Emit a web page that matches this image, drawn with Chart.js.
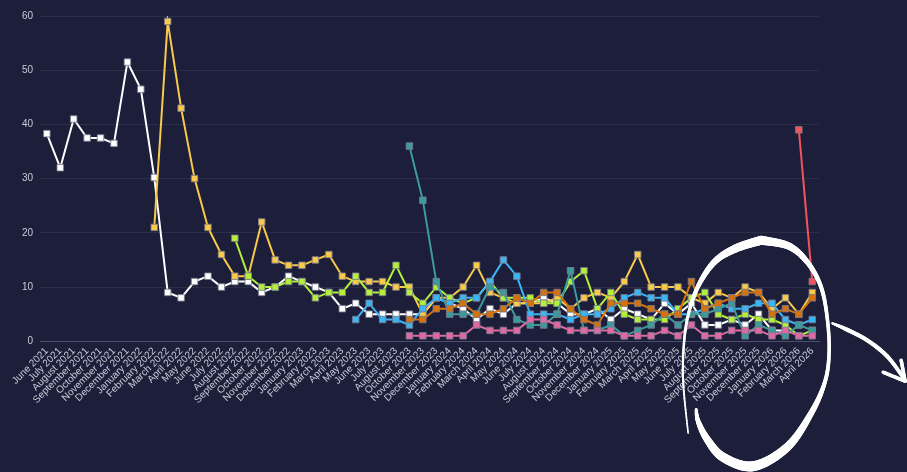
<!DOCTYPE html>
<html>
<head>
<meta charset="utf-8">
<script src="https://cdn.jsdelivr.net/npm/chart.js@4.4.1/dist/chart.umd.min.js"></script>
<style>
  html, body { margin: 0; padding: 0; background: #1c1e3a; }
  #wrap { width: 907px; height: 472px; position: relative; }
</style>
</head>
<body>
<div id="wrap"><canvas id="c"></canvas></div>
<script>
const months = [
  "June 2021","July 2021","August 2021","September 2021","October 2021","November 2021","December 2021",
  "January 2022","February 2022","March 2022","April 2022","May 2022","June 2022","July 2022","August 2022",
  "September 2022","October 2022","November 2022","December 2022",
  "January 2023","February 2023","March 2023","April 2023","May 2023","June 2023","July 2023","August 2023",
  "October 2023","November 2023","December 2023",
  "January 2024","February 2024","March 2024","April 2024","May 2024","June 2024","July 2024","August 2024",
  "September 2024","October 2024","November 2024","December 2024",
  "January 2025","February 2025","March 2025","April 2025","May 2025","June 2025","July 2025","August 2025",
  "September 2025","October 2025","November 2025","December 2025",
  "January 2026","February 2026","March 2026","April 2026"
];
const N = null;
const whiteValues = [38.3,32,41,37.5,37.5,36.5,51.5,46.5,30.2,9,8,11,12,10,11,11,9,10,12,11,10,9,6,7,5,5,5,5,5,8,7,6,4,6,5,7,7,8,7,5,5,6,4,6,5,4,7,5,7,3,3,4,3,5,2,2,N,N];
const yellowValues = [N,N,N,N,N,N,N,N,21,59,43,30,21,16,12,12,22,15,14,14,15,16,12,11,11,11,10,10,5,8,8,10,14,9,8,7,7,7,8,6,8,9,8,11,16,10,10,10,8,7,9,8,10,9,6,8,5,9];
const limeValues = [N,N,N,N,N,N,N,N,N,N,N,N,N,N,19,12,10,10,11,11,8,9,9,12,9,9,14,9,7,10,8,7,8,11,8,8,8,7,7,11,13,6,9,5,4,4,4,6,8,9,5,4,5,4,4,3,1,2];
const blueValues = [N,N,N,N,N,N,N,N,N,N,N,N,N,N,N,N,N,N,N,N,N,N,N,4,7,4,4,3,6,8,7,8,8,11,15,12,5,5,5,4,5,5,6,8,9,8,8,5,5,6,7,6,6,7,7,4,3,4];
const tealValues = [N,N,N,N,N,N,N,N,N,N,N,N,N,N,N,N,N,N,N,N,N,N,N,N,N,N,N,36,26,11,5,5,5,10,9,4,3,3,5,13,2,2,3,1,2,3,5,3,5,5,6,7,1,3,2,1,3,2];
const orangeValues = [N,N,N,N,N,N,N,N,N,N,N,N,N,N,N,N,N,N,N,N,N,N,N,N,N,N,N,4,4,6,6,7,5,5,6,8,7,9,9,6,4,3,7,7,7,6,5,5,11,6,7,8,9,9,5,6,5,8];
const pinkValues = [N,N,N,N,N,N,N,N,N,N,N,N,N,N,N,N,N,N,N,N,N,N,N,N,N,N,N,1,1,1,1,1,3,2,2,2,4,4,3,2,2,2,2,1,1,1,2,1,3,1,1,2,2,2,1,2,1,1];
const redValues = [N,N,N,N,N,N,N,N,N,N,N,N,N,N,N,N,N,N,N,N,N,N,N,N,N,N,N,N,N,N,N,N,N,N,N,N,N,N,N,N,N,N,N,N,N,N,N,N,N,N,N,N,N,N,N,N,39,11];
const yTicks = [0,10,20,30,40,50,60];

function ds(data, color) {
  return {
    data: data, borderColor: color, backgroundColor: color,
    borderWidth: 2, tension: 0, spanGaps: false,
    pointStyle: 'rect', pointRadius: 4.6, pointHoverRadius: 4.6,
    pointBorderWidth: 1, pointBorderColor: 'rgba(120,122,140,0.85)',
    pointBackgroundColor: color
  };
}

// hand-drawn highlight (decoration), offsets relative to an anchor on the axes
const loopA = [[16,-101,9],[-9,-93,8],[-30,-80,6],[-46,-57,4.5],[-56,-30,3],[-61,0,2.5],[-62,40,2],[-57,92,1.5]];
const loopB = [[16,-101,9],[44,-95,7],[63,-78,5],[76,-54,4],[82,-24,3.5],[84,10,3.5],[80,40,4],[66,72,6],[42,106,8.5],[8,125,10],[-22,116,9],[-38,98,7],[-47,80,4.5],[-49,68,2.5]];
const arrowLine = [[87,-18,2],[101,-12,4],[122,-1,4],[142,15,4],[158,36,3.5]];
const arrowHeadA = [[138,31,3.5],[160,40,3.5]];
const arrowHeadB = [[156,19,3.5],[160,40,3.5]];

function catmull(pts, steps) {
  const out = [];
  for (let i = 0; i < pts.length - 1; i++) {
    const p0 = pts[Math.max(i - 1, 0)], p1 = pts[i], p2 = pts[i + 1], p3 = pts[Math.min(i + 2, pts.length - 1)];
    for (let s = 0; s < steps; s++) {
      const t = s / steps, t2 = t * t, t3 = t2 * t;
      const f = (a, b, c, d) => 0.5 * ((2 * b) + (-a + c) * t + (2 * a - 5 * b + 4 * c - d) * t2 + (-a + 3 * b - 3 * c + d) * t3);
      out.push([f(p0[0], p1[0], p2[0], p3[0]), f(p0[1], p1[1], p2[1], p3[1]), p1[2] + (p2[2] - p1[2]) * t]);
    }
  }
  out.push(pts[pts.length - 1]);
  return out;
}
function brush(ctx, ax, ay, pts) {
  const sm = catmull(pts, 16);
  for (let i = 0; i < sm.length - 1; i++) {
    ctx.beginPath();
    ctx.lineWidth = sm[i][2];
    ctx.moveTo(ax + sm[i][0], ay + sm[i][1]);
    ctx.lineTo(ax + sm[i + 1][0], ay + sm[i + 1][1]);
    ctx.stroke();
  }
}
const handDrawn = {
  id: 'handDrawn',
  afterDraw(chart) {
    const c = chart.ctx;
    const ax = chart.scales.x.getPixelForValue(52);
    const ay = chart.scales.y.getPixelForValue(0);
    c.save();
    c.strokeStyle = '#ffffff';
    c.lineCap = 'round';
    c.lineJoin = 'round';
    [loopA, loopB, arrowLine, arrowHeadA, arrowHeadB].forEach(p => brush(c, ax, ay, p));
    c.restore();
  }
};

const bg = {
  id: 'bg',
  beforeDraw(chart) {
    const c = chart.ctx;
    c.save();
    c.fillStyle = '#1c1e3a';
    c.fillRect(0, 0, chart.width, chart.height);
    c.restore();
  }
};

new Chart(document.getElementById('c'), {
  type: 'line',
  data: {
    labels: months,
    datasets: [
      ds(redValues, '#f0545c'),
      ds(pinkValues, '#e069a3'),
      ds(orangeValues, '#d5720c'),
      ds(tealValues, '#3a9a9c'),
      ds(blueValues, '#3cb5f5'),
      ds(limeValues, '#b4ef3c'),
      ds(yellowValues, '#f8c94a'),
      ds(whiteValues, '#ffffff')
    ]
  },
  options: {
    responsive: true,
    maintainAspectRatio: false,
    animation: false,
    layout: { padding: { left: 15, right: 88, top: 16, bottom: 62 } },
    plugins: { legend: { display: false }, tooltip: { enabled: false } },
    scales: {
      x: {
        offset: true,
        grid: { display: false, drawTicks: false },
        border: { display: true, color: '#4c4f6c', width: 1 },
        ticks: {
          color: '#c9cbd6', autoSkip: false, minRotation: 45, maxRotation: 45, padding: 4,
          font: { family: "'Liberation Sans', Arial, sans-serif", size: 10 }
        }
      },
      y: {
        min: 0, max: 60,
        afterBuildTicks(axis) { axis.ticks = yTicks.map(v => ({ value: v })); },
        grid: { color: 'rgba(255,255,255,0.07)', drawTicks: false, lineWidth: 1 },
        border: { display: false },
        ticks: {
          color: '#c9cbd6', padding: 7,
          font: { family: "'Liberation Sans', Arial, sans-serif", size: 10 }
        }
      }
    }
  },
  plugins: [bg, handDrawn]
});
</script>
</body>
</html>
